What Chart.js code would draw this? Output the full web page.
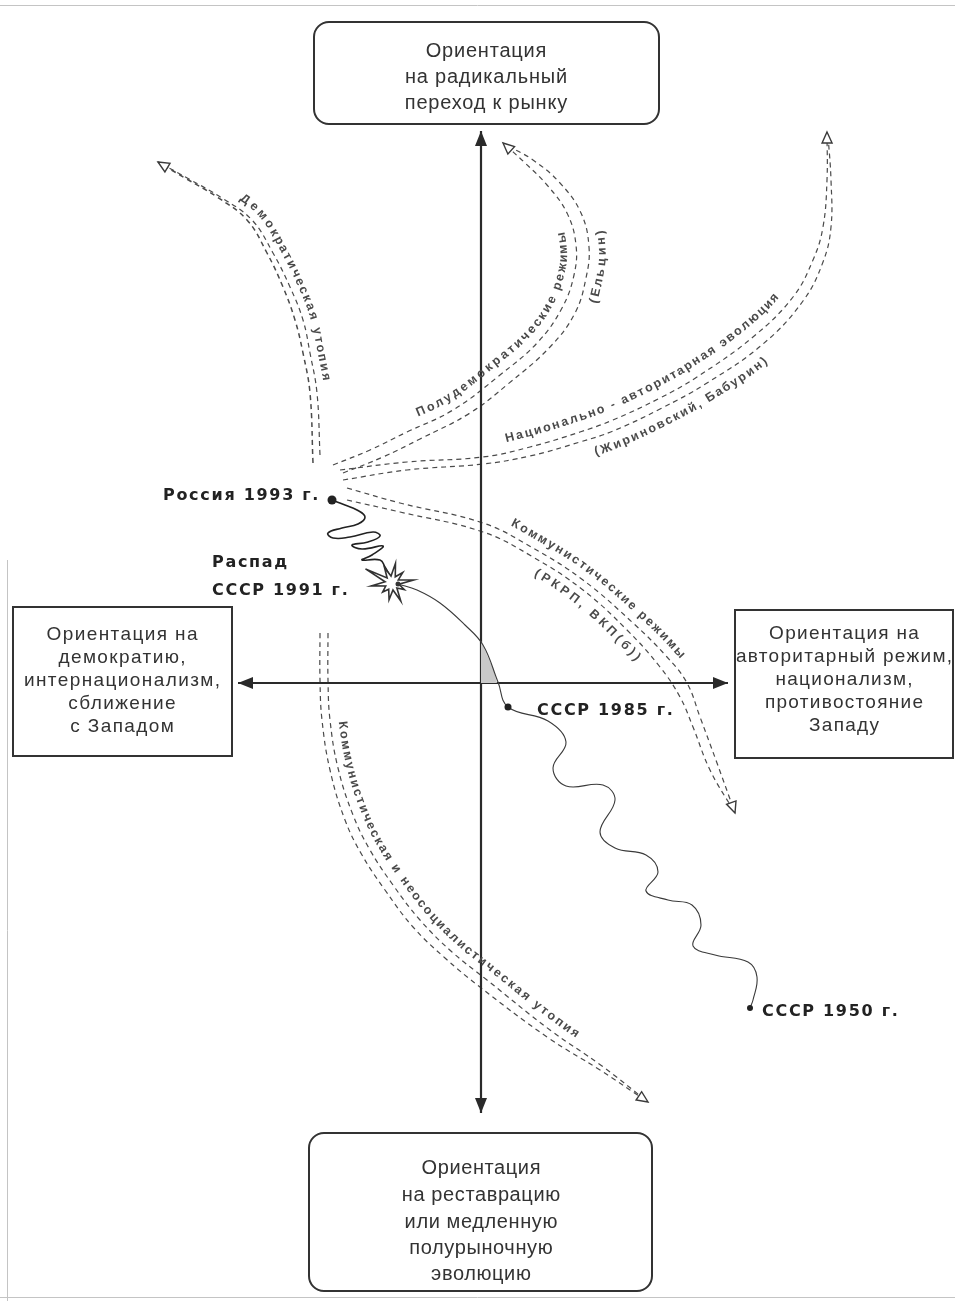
<!DOCTYPE html>
<html><head><meta charset="utf-8">
<script src="https://cdn.jsdelivr.net/npm/chart.js@4.4.1/dist/chart.umd.min.js"></script>
<style>html,body{margin:0;padding:0;background:#fff}canvas{display:block}</style>
</head><body>
<canvas id="c" width="955" height="1301" style="width:955px;height:1301px"></canvas>
<script>
// ---------- data (diagram units) ----------
const axisVertical   = [[481,131],[481,1113]];
const axisHorizontal = [[238,683],[728,683]];

const demUtopiaLeft  = [[313,463],[310,393],[303,353],[295,320],[283,287],[267,253],[247,220],[217,197],[185,178],[158,162]];
const demUtopiaRight = [[320,455],[317,393],[310,353],[303,320],[290,287],[273,253],[252,220],[222,198],[189,179],[160,163]];

const semiDemLeft  = [[333,465],[370,450],[407,432],[453,410],[500,375],[538,342],[562,308],[574,275],[576,245],[567,213],[547,185],[524,162],[503,143]];
const semiDemRight = [[343,473],[383,457],[420,439],[470,413],[508,384],[550,347],[575,313],[586,278],[589,247],[581,213],[560,183],[533,160],[506,145]];

const natLeft  = [[340,470],[407,462],[483,457],[530,447],[580,432],[613,420],[660,398],[697,377],[753,337],[793,297],[813,260],[823,227],[827,180],[827,132]];
const natRight = [[343,480],[407,470],[483,464],[530,456],[580,442],[613,431],[660,409],[707,383],[763,344],[803,301],[823,262],[831,227],[831,180],[828,135]];

const commUpper = [[347,488],[400,503],[483,523],[533,548],[583,580],[633,623],[667,657],[687,683],[700,717],[717,763],[735,813]];
const commLower = [[347,500],[400,512],[483,532],[533,557],[583,590],[627,630],[660,667],[680,697],[693,727],[710,770],[735,813]];

const utopiaLeft  = [[320,633],[320,680],[322,720],[330,770],[345,820],[362,855],[385,890],[413,927],[445,958],[480,987],[547,1037],[600,1070],[648,1102]];
const utopiaRight = [[328,633],[328,680],[330,720],[338,768],[353,815],[370,850],[393,885],[420,920],[452,952],[487,980],[550,1030],[602,1066],[648,1102]];

const historyPath = [[750,1008],[753,1000],[757,977],[748,962],[715,955],[693,946],[701,925],[692,905],[668,900],[646,891],[658,872],[646,855],[615,848],[600,832],[615,800],[603,785],[566,786],[553,768],[566,742],[548,721],[508,707],[498,682],[483,645],[465,625],[440,603],[417,590],[398,584]];
const springPath  = [[332,500],[345,505],[357,510],[365,517],[358,524],[342,528],[328,533],[333,538],[350,537],[373,532],[380,536],[368,542],[352,545],[362,549],[383,546],[372,555],[362,560],[380,560],[385,567],[391,578]];
const shadeArea   = [[481,641],[487,655],[493,668],[497,683],[481,683],[481,641]];

const eventPoints = [[332,500],[508,707],[750,1008]];
const collapsePoint = [[392,583]];

const eventTexts = ['Россия 1993 г.','Распад','СССР 1991 г.','СССР 1985 г.','СССР 1950 г.'];
const topBoxLines    = ['Ориентация','на радикальный','переход к рынку'];
const leftBoxLines   = ['Ориентация на','демократию,','интернационализм,','сближение','с Западом'];
const rightBoxLines  = ['Ориентация на','авторитарный режим,','национализм,','противостояние','Западу'];
const bottomBoxLines = ['Ориентация','на реставрацию','или медленную','полурыночную','эволюцию'];

// ---------- layout / styles ----------
const eventLayout = [
  {x:163,y:500},{x:212,y:567},{x:212,y:595},{x:537,y:715},{x:762,y:1016}
];
const boxes = [
  {r:[314,22,659,124], rad:15, lines:topBoxLines, cx:486, base:[57,83,109], size:20, ls:0.8},
  {r:[13,607,232,756], rad:0, lines:leftBoxLines, cx:122, base:[640,663,686,709,732], size:19, ls:1.4},
  {r:[735,610,953,758], rad:0, lines:rightBoxLines, cx:844, base:[639,662,685,708,731], size:19, ls:1.3},
  {r:[309,1133,652,1291], rad:15, lines:bottomBoxLines, cx:481, base:[1174,1201,1228,1254,1280], size:20, ls:0.6}
];
const curveLabels = [
  {on:'demUtopiaRight', text:'Демократическая утопия', from:[240,200], to:[330,380], offset:11},
  {on:'semiDemLeft', text:'Полудемократические режимы', from:[417,412], to:[568,232], offset:13},
  {on:'semiDemRight', text:'(Ельцин)', from:[600,305], to:[601,230], offset:-13},
  {on:'natLeft', text:'Национально - авторитарная эволюция', from:[505,440], to:[775,293], offset:14},
  {on:'natRight', text:'(Жириновский, Бабурин)', from:[596,456], to:[768,362], offset:-14},
  {on:'commUpper', text:'Коммунистические режимы', from:[513,518], to:[690,650], offset:12},
  {on:'commLower', text:'(РКРП, ВКП(б))', from:[537,568], to:[635,663], offset:-12},
  {on:'utopiaRight', text:'Коммунистическая и неосоциалистическая утопия', from:[337,723], to:[567,1052], offset:12}
];

const dashed = {borderColor:'#4a4a4a', borderWidth:1.2, borderDash:[5,4]};
const axisStyle = {borderColor:'#2a2a2a', borderWidth:2.2, tension:0};
const thinSolid = {borderColor:'#3a3a3a', borderWidth:1.1};
const springStyle = {borderColor:'#222', borderWidth:1.6, tension:0.45};

function starImage(){
  const c = document.createElement('canvas'); c.width=72; c.height=62;
  const g = c.getContext('2d');
  const cx=36, cy=31;
  const outer=[22,14,20,17,13,21,30,17,20,15];
  g.beginPath();
  for(let i=0;i<outer.length;i++){
    const a=(i*36-8)*Math.PI/180, b=((i*36+10)*Math.PI/180);
    const ox=cx+outer[i]*Math.cos(a), oy=cy+outer[i]*Math.sin(a);
    const ix=cx+7*Math.cos(b), iy=cy+7*Math.sin(b);
    if(i===0) g.moveTo(ox,oy); else g.lineTo(ox,oy);
    g.lineTo(ix,iy);
  }
  g.closePath();
  g.fillStyle='#fff'; g.fill();
  g.strokeStyle='#333'; g.lineWidth=1.6; g.stroke();
  g.beginPath(); g.arc(cx+6,cy+1,2.5,0,Math.PI*2); g.fillStyle='#333'; g.fill();
  return c;
}

const line = (id, pts, style, extra={}) => Object.assign({
  id, data: pts.map(([x,y])=>({x,y})), showLine:true, pointRadius:0, pointHoverRadius:0,
  tension:0.4, fill:false
}, style, extra);

const datasets = [
  {id:'star', data: collapsePoint.map(([x,y])=>({x,y})), showLine:false, pointStyle: starImage(), pointRadius:12},
  {id:'dots', data: eventPoints.map(([x,y])=>({x,y})), showLine:false, pointRadius:[4.5,3.5,3], pointBackgroundColor:'#222', pointBorderWidth:0},
  line('spring', springPath, springStyle),
  line('history', historyPath, thinSolid),
  line('shade', shadeArea, {borderWidth:0, tension:0, backgroundColor:'#c9c9c9'}, {fill:'shape'}),
  line('axisV', axisVertical, axisStyle, {arrowStart:'solid', arrowEnd:'solid'}),
  line('axisH', axisHorizontal, axisStyle, {arrowStart:'solid', arrowEnd:'solid'}),
  line('demUtopiaLeft', demUtopiaLeft, dashed, {arrowEnd:'hollow', borderWidth:1.5}),
  line('demUtopiaRight', demUtopiaRight, dashed),
  line('semiDemLeft', semiDemLeft, dashed, {arrowEnd:'hollow'}),
  line('semiDemRight', semiDemRight, dashed),
  line('natLeft', natLeft, dashed, {arrowEnd:'hollow'}),
  line('natRight', natRight, dashed),
  line('commUpper', commUpper, dashed, {arrowEnd:'hollow'}),
  line('commLower', commLower, dashed),
  line('utopiaLeft', utopiaLeft, dashed, {arrowEnd:'hollow'}),
  line('utopiaRight', utopiaRight, dashed)
];

// ---------- geometry helpers ----------
function samplePath(meta){
  const pts = meta.data, out=[];
  for(let i=0;i<pts.length;i++){
    const p=pts[i];
    if(i===0){out.push([p.x,p.y]);continue;}
    const q=pts[i-1];
    const c1x=q.cp2x??q.x, c1y=q.cp2y??q.y, c2x=p.cp1x??p.x, c2y=p.cp1y??p.y;
    for(let t=1;t<=20;t++){
      const u=t/20, v=1-u;
      out.push([v*v*v*q.x+3*v*v*u*c1x+3*v*u*u*c2x+u*u*u*p.x,
                v*v*v*q.y+3*v*v*u*c1y+3*v*u*u*c2y+u*u*u*p.y]);
    }
  }
  const cum=[0];
  for(let i=1;i<out.length;i++) cum.push(cum[i-1]+Math.hypot(out[i][0]-out[i-1][0],out[i][1]-out[i-1][1]));
  return {pts:out, cum, len:cum[cum.length-1]};
}
function pointAt(path,s){
  s=Math.max(0,Math.min(path.len,s));
  let i=1; while(i<path.cum.length-1 && path.cum[i]<s) i++;
  const a=path.pts[i-1], b=path.pts[i], seg=(path.cum[i]-path.cum[i-1])||1;
  const t=(s-path.cum[i-1])/seg;
  const dx=b[0]-a[0], dy=b[1]-a[1], d=Math.hypot(dx,dy)||1;
  return {x:a[0]+dx*t, y:a[1]+dy*t, tx:dx/d, ty:dy/d};
}
function project(path,P){
  let best=0,bd=1e9;
  path.pts.forEach((q,i)=>{const d=Math.hypot(q[0]-P[0],q[1]-P[1]); if(d<bd){bd=d;best=i;}});
  return path.cum[best];
}
function drawArrow(ctx,tip,back,kind){
  const dx=tip.x-back.x, dy=tip.y-back.y, d=Math.hypot(dx,dy)||1, ux=dx/d, uy=dy/d;
  const L = kind==='solid'?15:11, W = kind==='solid'?6:5;
  const bx=tip.x-ux*L, by=tip.y-uy*L;
  ctx.beginPath();
  ctx.moveTo(tip.x,tip.y);
  ctx.lineTo(bx-uy*W, by+ux*W);
  ctx.lineTo(bx+uy*W, by-ux*W);
  ctx.closePath();
  ctx.setLineDash([]);
  if(kind==='solid'){ctx.fillStyle='#2a2a2a';ctx.fill();}
  else {ctx.fillStyle='#fff';ctx.fill();ctx.strokeStyle='#3a3a3a';ctx.lineWidth=1.4;ctx.stroke();}
}

const diagramPlugin = {
  id:'diagram',
  beforeDatasetsDraw(chart){
    const ctx=chart.ctx, X=chart.scales.x, Y=chart.scales.y;
    ctx.save();
    ctx.strokeStyle='#c4c4c4'; ctx.lineWidth=1;
    ctx.beginPath();
    ctx.moveTo(X.getPixelForValue(0),Y.getPixelForValue(5.5)); ctx.lineTo(X.getPixelForValue(955),Y.getPixelForValue(5.5));
    ctx.moveTo(X.getPixelForValue(7.5),Y.getPixelForValue(560)); ctx.lineTo(X.getPixelForValue(7.5),Y.getPixelForValue(1301));
    ctx.moveTo(X.getPixelForValue(0),Y.getPixelForValue(1297.5)); ctx.lineTo(X.getPixelForValue(955),Y.getPixelForValue(1297.5));
    ctx.stroke();
    ctx.restore();
  },
  afterDatasetsDraw(chart){
    const ctx=chart.ctx, X=chart.scales.x, Y=chart.scales.y;
    const px=v=>X.getPixelForValue(v), py=v=>Y.getPixelForValue(v);
    const paths={};
    chart.data.datasets.forEach((d,i)=>{ if(d.showLine) paths[d.id]=samplePath(chart.getDatasetMeta(i)); });
    ctx.save();
    // arrows
    chart.data.datasets.forEach(d=>{
      const p=paths[d.id]; if(!p) return;
      if(d.arrowEnd) drawArrow(ctx, pointAt(p,p.len), pointAt(p,p.len-10), d.arrowEnd);
      if(d.arrowStart) drawArrow(ctx, pointAt(p,0), pointAt(p,10), d.arrowStart);
    });
    // boxes
    boxes.forEach(b=>{
      const x0=px(b.r[0]), y0=py(b.r[1]), x1=px(b.r[2]), y1=py(b.r[3]);
      ctx.beginPath();
      if(b.rad) ctx.roundRect(x0,y0,x1-x0,y1-y0,b.rad); else ctx.rect(x0,y0,x1-x0,y1-y0);
      ctx.fillStyle='#fff'; ctx.fill();
      ctx.strokeStyle='#333'; ctx.lineWidth=2; ctx.setLineDash([]); ctx.stroke();
      ctx.fillStyle='#333';
      ctx.font=b.size+"px 'Liberation Sans', Arial, sans-serif";
      ctx.letterSpacing=b.ls+'px';
      ctx.textAlign='center'; ctx.textBaseline='alphabetic';
      b.lines.forEach((t,i)=>ctx.fillText(t, px(b.cx)+b.ls/2, py(b.base[i])));
    });
    // event labels
    ctx.font="bold 16px 'DejaVu Sans', Verdana, sans-serif";
    ctx.letterSpacing='1.7px';
    ctx.fillStyle='#222'; ctx.textAlign='left'; ctx.textBaseline='alphabetic';
    eventTexts.forEach((t,i)=>ctx.fillText(t, px(eventLayout[i].x), py(eventLayout[i].y)));
    // curve labels
    ctx.letterSpacing='0px';
    ctx.font="bold 12.5px 'Liberation Sans', Arial, sans-serif";
    ctx.fillStyle='#4a4a4a'; ctx.textAlign='center'; ctx.textBaseline='middle';
    curveLabels.forEach(l=>{
      const p=paths[l.on];
      const s0=project(p,[px(l.from[0]),py(l.from[1])]), s1=project(p,[px(l.to[0]),py(l.to[1])]);
      const dir=Math.sign(s1-s0)||1, total=Math.abs(s1-s0);
      const chars=[...l.text], w=chars.map(c=>ctx.measureText(c).width);
      const W=w.reduce((a,b)=>a+b,0), gap=(total-W)/Math.max(1,chars.length-1);
      let acc=0;
      chars.forEach((c,i)=>{
        const q=pointAt(p, s0+dir*(acc+w[i]/2));
        const tx=q.tx*dir, ty=q.ty*dir, th=Math.atan2(ty,tx);
        ctx.save();
        ctx.translate(q.x+ty*l.offset, q.y-tx*l.offset);
        ctx.rotate(th);
        ctx.fillText(c,0,0);
        ctx.restore();
        acc+=w[i]+gap;
      });
    });
    ctx.restore();
  }
};

new Chart(document.getElementById('c'), {
  type:'scatter',
  data:{datasets},
  options:{
    responsive:false, animation:false, devicePixelRatio:1,
    layout:{padding:0, autoPadding:false},
    plugins:{legend:{display:false}, tooltip:{enabled:false}},
    events:[],
    scales:{
      x:{type:'linear', min:0, max:955, display:false},
      y:{type:'linear', min:0, max:1301, reverse:true, display:false}
    }
  },
  plugins:[diagramPlugin]
});
</script>
</body></html>
